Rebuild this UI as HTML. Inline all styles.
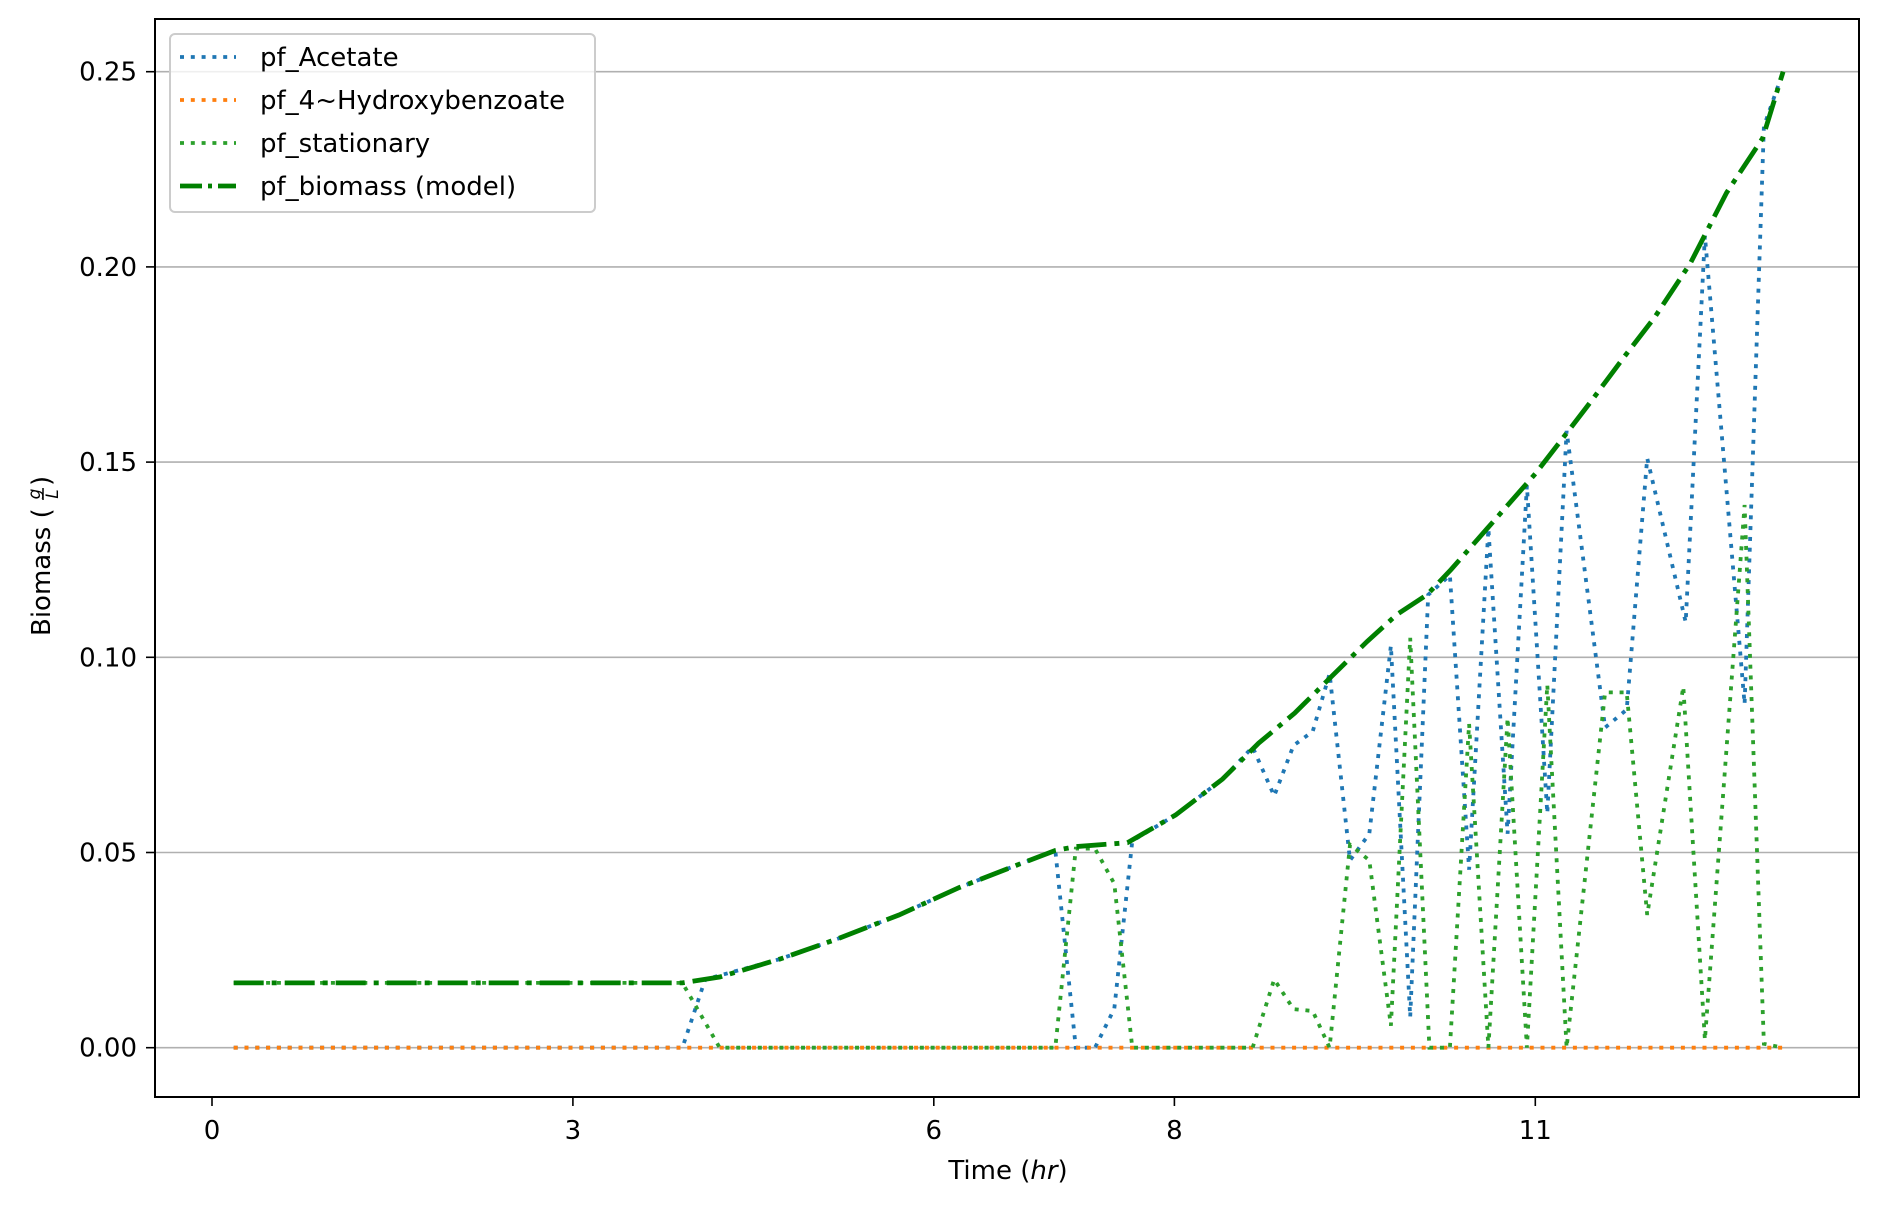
<!DOCTYPE html>
<html><head><meta charset="utf-8"><style>
html,body{margin:0;padding:0;background:#fff;}
svg{display:block;font-family:"DejaVu Sans","Liberation Sans",sans-serif;}
</style></head><body>
<svg id="chart" width="1880" height="1205" viewBox="0 0 1880 1205" xmlns="http://www.w3.org/2000/svg">
<rect x="0" y="0" width="1880" height="1205" fill="#fff"/>
<g id="grid"></g>
<g id="series"></g>
<g id="axes"></g>
<text x="1008" y="1179" font-size="26" text-anchor="middle">Time (<tspan font-style="italic">hr</tspan>)</text>
<g transform="translate(50,558) rotate(-90)">
<text x="-78" y="0" font-size="26">Biomass (</text>
<text x="64" y="-10" font-size="17" font-style="italic" text-anchor="middle">g</text>
<line x1="58" x2="70" y1="-7" y2="-7" stroke="#000" stroke-width="1.5"/>
<text x="64" y="8" font-size="17" font-style="italic" text-anchor="middle">L</text>
<text x="72" y="0" font-size="26">)</text>
</g>
<g id="legend"></g>
</svg>
<script>
const xTicks = [0, 3, 6, 8, 11];
const yTicks = [0, 0.05, 0.10, 0.15, 0.20, 0.25];
const yTickLabels = ["0.00", "0.05", "0.10", "0.15", "0.20", "0.25"];
const acetateT = [0.18,3.91,4.1,4.72,5.21,5.71,6.21,6.71,7.01,7.18,7.34,7.5,7.65,8.01,8.4,8.65,8.83,8.99,9.15,9.29,9.46,9.62,9.80,9.96,10.11,10.29,10.45,10.61,10.77,10.93,11.10,11.26,11.58,11.76,11.93,12.25,12.41,12.74,12.90,13.06];
const acetateV = [0,0,0.0175,0.0227,0.028,0.034,0.041,0.047,0.0505,0,0,0.01,0.053,0.0596,0.0688,0.077,0.0645,0.0774,0.081,0.0958,0.048,0.0548,0.103,0.0078,0.116,0.121,0.0456,0.133,0.0548,0.144,0.060,0.158,0.082,0.0866,0.151,0.109,0.208,0.088,0.236,0.25];
const hydroxyT = [0.18,13.06];
const hydroxyV = [0,0];
const stationaryT = [0.18,3.91,4.22,7.01,7.18,7.34,7.5,7.65,8.65,8.83,8.99,9.15,9.29,9.46,9.62,9.80,9.96,10.12,10.29,10.45,10.61,10.77,10.93,11.10,11.26,11.58,11.76,11.93,12.23,12.41,12.74,12.90,13.06];
const stationaryV = [0.0166,0.0166,0,0,0.051,0.051,0.042,0,0,0.0175,0.0099,0.0094,0,0.052,0.048,0.0056,0.105,0,0,0.083,0,0.0845,0,0.093,0,0.091,0.091,0.034,0.0925,0.002,0.139,0.001,0];
const biomassT = [0.18,3.91,4.22,4.72,5.21,5.71,6.21,6.71,7.01,7.18,7.61,8.01,8.40,8.70,9.0,9.30,9.60,9.85,10.10,10.30,10.60,11.0,11.2,11.45,11.74,11.99,12.29,12.59,12.89,13.06];
const biomassV = [0.0166,0.0166,0.0181,0.0227,0.028,0.034,0.041,0.047,0.0505,0.0515,0.0525,0.0596,0.0688,0.078,0.0857,0.0949,0.104,0.111,0.116,0.1225,0.133,0.147,0.155,0.165,0.177,0.187,0.201,0.219,0.233,0.25];

const L=155,R=1859,T=19,B=1097;
function sx(t){return 212 + t*120.3;}
function sy(v){return 1047.7 - v*3904;}
const NS="http://www.w3.org/2000/svg";
function mk(tag,attrs,parent){const e=document.createElementNS(NS,tag);for(const k in attrs)e.setAttribute(k,attrs[k]);parent.appendChild(e);return e;}
const grid=document.getElementById('grid'),axes=document.getElementById('axes'),series=document.getElementById('series'),legend=document.getElementById('legend');
yTicks.forEach((v,i)=>{
  const g=mk('line',{x1:L,x2:R,y1:sy(v),y2:sy(v),stroke:'#b0b0b0','stroke-width':1.6},grid);
  
  
  const tk=mk('line',{x1:L-9,x2:L,y1:sy(v),y2:sy(v),stroke:'#000','stroke-width':1.6},axes);
  
  
  const tx=mk('text',{x:L-18,y:sy(v)+9,'font-size':26,'text-anchor':'end'},axes);
  tx.textContent=yTickLabels[i];
  
  
});
xTicks.forEach(t=>{
  const tk=mk('line',{x1:sx(t),x2:sx(t),y1:B,y2:B+9,stroke:'#000','stroke-width':1.6},axes);
  
  
  const tx=mk('text',{x:sx(t),y:B+42,'font-size':26,'text-anchor':'middle'},axes);
  tx.textContent=String(t);
  
  
});
const frame=mk('rect',{x:L,y:T,width:R-L,height:B-T,fill:'none',stroke:'#000','stroke-width':2},axes);


function pts(ts,vs){return ts.map((t,i)=>sx(t).toFixed(1)+','+sy(vs[i]).toFixed(1)).join(' ');}
const DOT='4 6.8', DASHDOT='30 8 5 8';
const specs=[
 {name:'acetate-line',t:acetateT,v:acetateV,c:'#1f77b4',w:3.8,d:DOT},
 {name:'hydroxybenzoate-line',t:hydroxyT,v:hydroxyV,c:'#ff7f0e',w:3.8,d:DOT},
 {name:'stationary-line',t:stationaryT,v:stationaryV,c:'#2ca02c',w:3.8,d:DOT},
 {name:'biomass-model-line',t:biomassT,v:biomassV,c:'#008000',w:4.8,d:DASHDOT}
];
specs.forEach(s=>{
  const p=mk('polyline',{points:pts(s.t,s.v),fill:'none',stroke:s.c,'stroke-width':s.w,'stroke-dasharray':s.d},series);
  
  
});
const box=mk('rect',{x:170,y:34,width:425,height:178,rx:5,fill:'#fff','fill-opacity':0.8,stroke:'#ccc','stroke-width':2},legend);


const labels=['pf_Acetate','pf_4~Hydroxybenzoate','pf_stationary','pf_biomass (model)'];
const ys=[57,100,143,186];
specs.forEach((s,i)=>{
  const l=mk('line',{x1:180,x2:236,y1:ys[i],y2:ys[i],stroke:s.c,'stroke-width':s.w,'stroke-dasharray':i===3?'22 6 4 6':s.d},legend);
  
  
  const tx=mk('text',{x:260,y:ys[i]+9,'font-size':26},legend);
  tx.textContent=labels[i];
  
  
});
</script>
</body></html>
